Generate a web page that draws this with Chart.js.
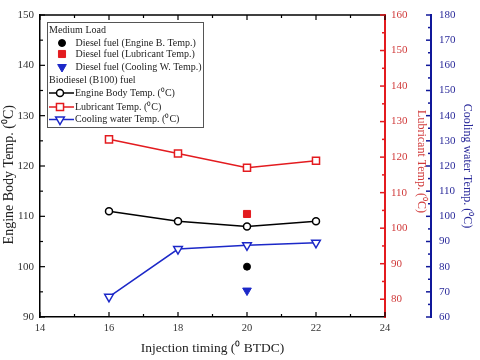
<!DOCTYPE html>
<html>
<head>
<meta charset="utf-8">
<script src="https://cdn.jsdelivr.net/npm/chart.js@4"></script>
<style>
  body { margin: 0; background: #fff; }
  #wrap { width: 480px; height: 360px; }
</style>
</head>
<body>
<div id="wrap"><canvas id="myChart" width="480" height="360"></canvas></div>
<script>
// injection timing (deg BTDC)
const timing = [16, 18, 20, 22];
// biodiesel (B100) fuel
const engineBody = [111, 109, 108, 109];
const lubricant = [125, 121, 117, 119];
const cooling = [68, 87, 88.5, 89.5];
// diesel fuel reference point
const dieselTiming = [20];
const dieselEngine = [100];
const dieselLubricant = [104];
const dieselCooling = [70.5];

const RED = '#e31b1f';
const BLUE = '#1c28c8';
const serif = 'Liberation Serif, Times New Roman, serif';

const pts = (xs, ys) => xs.map((x, i) => ({ x: x, y: ys[i] }));

const ctx = document.getElementById('myChart').getContext('2d');

// inward tick marks like the original plot (major + minor)
const frameTicks = {
    id: 'frameTicks',
    afterDraw(chart) {
        const c = chart.ctx;
        const a = chart.chartArea;
        const s = chart.scales;
        c.save();
        // top border
        c.strokeStyle = '#000';
        c.lineWidth = 1.5;
        c.beginPath();
        c.moveTo(a.left, a.top);
        c.lineTo(a.right, a.top);
        c.stroke();

        c.lineWidth = 1.2;
        // x ticks, bottom and top
        for (let v = 14; v <= 24; v++) {
            const px = s.x.getPixelForValue(v);
            const len = v % 2 === 0 ? 5 : 3;
            c.beginPath();
            c.moveTo(px, a.bottom); c.lineTo(px, a.bottom - len);
            c.moveTo(px, a.top); c.lineTo(px, a.top + len);
            c.stroke();
        }
        // left axis
        for (let v = 90; v <= 150; v += 5) {
            const py = s.y.getPixelForValue(v);
            const len = v % 10 === 0 ? 5 : 3;
            c.beginPath();
            c.moveTo(a.left, py); c.lineTo(a.left + len, py);
            c.stroke();
        }
        // red axis
        c.strokeStyle = RED;
        c.lineWidth = 1.5;
        for (let v = 80; v <= 160; v += 5) {
            const py = s.y1.getPixelForValue(v);
            const len = v % 10 === 0 ? 5 : 3;
            c.beginPath();
            c.moveTo(a.right, py); c.lineTo(a.right - len, py);
            c.stroke();
        }
        // blue axis
        c.strokeStyle = '#10189a';
        const bx = s.y2.left;
        for (let v = 60; v <= 180; v += 5) {
            const py = s.y2.getPixelForValue(v);
            const len = v % 10 === 0 ? 5 : 3;
            c.beginPath();
            c.moveTo(bx, py); c.lineTo(bx - len, py);
            c.stroke();
        }
        c.restore();
    }
};

// boxed legend with two groups
const legendRows = [
    { text: 'Medium Load', y: 30 },
    { text: 'Diesel fuel (Engine B. Temp.)', y: 43, ds: 3 },
    { text: 'Diesel fuel (Lubricant Temp.)', y: 54, ds: 4 },
    { text: 'Diesel fuel (Cooling W. Temp.)', y: 67, ds: 5 },
    { text: 'Biodiesel (B100) fuel', y: 80.5 },
    { text: 'Engine Body Temp. (\u2070C)', y: 93, ds: 0, line: true },
    { text: 'Lubricant Temp. (\u2070C)', y: 107, ds: 1, line: true },
    { text: 'Cooling water Temp. (\u2070C)', y: 119.5, ds: 2, line: true }
];

const boxLegend = {
    id: 'boxLegend',
    afterDraw(chart) {
        const c = chart.ctx;
        c.save();
        c.fillStyle = '#fff';
        c.fillRect(47, 22, 156, 105);
        c.strokeStyle = '#555';
        c.lineWidth = 1;
        c.strokeRect(47.5, 22.5, 156, 105);
        c.font = '10px ' + serif;
        c.textBaseline = 'middle';
        legendRows.forEach(r => {
            if (r.ds === undefined) {
                c.fillStyle = '#222';
                c.fillText(r.text, 49, r.y);
                return;
            }
            const d = chart.data.datasets[r.ds];
            let mx = 62, tx = 75.5;
            if (r.line) {
                c.strokeStyle = d.borderColor;
                c.lineWidth = 1.5;
                c.beginPath();
                c.moveTo(49, r.y); c.lineTo(74, r.y);
                c.stroke();
                mx = 60; tx = 75;
            }
            c.fillStyle = d.pointBackgroundColor;
            c.strokeStyle = d.pointBorderColor;
            c.lineWidth = d.pointBorderWidth;
            Chart.helpers.drawPoint(c, {
                pointStyle: d.pointStyle,
                radius: d.pointRadius,
                rotation: d.pointRotation || 0,
                borderWidth: d.pointBorderWidth
            }, mx, r.y);
            c.fillStyle = '#222';
            c.fillText(r.text, tx, r.y);
        });
        c.restore();
    }
};

const myChart = new Chart(ctx, {
    type: 'line',
    data: {
        datasets: [{
            data: pts(timing, engineBody),
            yAxisID: 'y',
            borderColor: '#000',
            borderWidth: 1.5,
            pointStyle: 'circle',
            pointRadius: 3.5,
            pointBorderWidth: 1.5,
            pointBackgroundColor: '#fff',
            pointBorderColor: '#000'
        }, {
            data: pts(timing, lubricant),
            yAxisID: 'y1',
            borderColor: RED,
            borderWidth: 1.5,
            pointStyle: 'rect',
            pointRadius: 5,
            pointBorderWidth: 1.5,
            pointBackgroundColor: '#fff',
            pointBorderColor: RED
        }, {
            data: pts(timing, cooling),
            yAxisID: 'y2',
            borderColor: BLUE,
            borderWidth: 1.5,
            pointStyle: 'triangle',
            pointRotation: 180,
            pointRadius: 5,
            pointBorderWidth: 1.5,
            pointBackgroundColor: '#fff',
            pointBorderColor: BLUE
        }, {
            data: pts(dieselTiming, dieselEngine),
            yAxisID: 'y',
            showLine: false,
            borderColor: '#000',
            pointStyle: 'circle',
            pointRadius: 3.5,
            pointBorderWidth: 1,
            pointBackgroundColor: '#000',
            pointBorderColor: '#000'
        }, {
            data: pts(dieselTiming, dieselLubricant),
            yAxisID: 'y1',
            showLine: false,
            borderColor: RED,
            pointStyle: 'rect',
            pointRadius: 5,
            pointBorderWidth: 1,
            pointBackgroundColor: RED,
            pointBorderColor: RED
        }, {
            data: pts(dieselTiming, dieselCooling),
            yAxisID: 'y2',
            showLine: false,
            borderColor: BLUE,
            pointStyle: 'triangle',
            pointRotation: 180,
            pointRadius: 5,
            pointBorderWidth: 1,
            pointBackgroundColor: BLUE,
            pointBorderColor: BLUE
        }]
    },
    options: {
        responsive: false,
        animation: false,
        layout: { padding: { top: 15, left: 0, right: 0, bottom: 0 } },
        plugins: {
            legend: { display: false },
            tooltip: { enabled: false }
        },
        scales: {
            x: {
                type: 'linear',
                min: 14, max: 24,
                grid: { display: false, drawTicks: false },
                border: { display: true, color: '#000', width: 1.5 },
                ticks: { stepSize: 2, padding: 5, color: '#333', font: { family: serif, size: 10.5 } },
                title: {
                    display: true,
                    text: 'Injection timing (\u2070 BTDC)',
                    color: '#222',
                    font: { family: serif, size: 13.5 },
                    padding: { top: 0, bottom: 3 }
                },
                afterFit(scale) { scale.height = 43; }
            },
            y: {
                position: 'left',
                min: 90, max: 150,
                grid: { display: false, drawTicks: false },
                border: { display: true, color: '#000', width: 1.5 },
                ticks: { stepSize: 10, padding: 6, color: '#333', font: { family: serif, size: 11 } },
                title: {
                    display: true,
                    text: 'Engine Body Temp. (\u2070C)     ',
                    color: '#222',
                    font: { family: serif, size: 14 },
                    padding: { top: 1, bottom: 0 }
                },
                afterFit(scale) { scale.width = 40; }
            },
            y1: {
                position: 'right',
                min: 75, max: 160,
                grid: { display: false, drawTicks: false },
                border: { display: true, color: RED, width: 2 },
                ticks: { stepSize: 10, padding: 6, color: '#d03a3a', font: { family: serif, size: 11 } },
                afterBuildTicks(scale) {
                    scale.ticks = scale.ticks.filter(t => t.value % 10 === 0);
                },
                title: {
                    display: true,
                    text: 'Lubricant Temp. (\u2070C)   ',
                    color: '#d03a3a',
                    font: { family: serif, size: 12 },
                    padding: { top: 3, bottom: 0 }
                },
                afterFit(scale) { scale.width = 46; }
            },
            y2: {
                position: 'right',
                min: 60, max: 180,
                grid: { display: false, drawTicks: false },
                border: { display: true, color: '#10189a', width: 2 },
                ticks: { stepSize: 10, padding: 8, color: '#2a2a9a', font: { family: serif, size: 11 } },
                title: {
                    display: true,
                    text: 'Cooling water Temp. (\u2070C)',
                    color: '#2a2a9a',
                    font: { family: serif, size: 12 },
                    padding: { top: 6, bottom: 0 }
                },
                afterFit(scale) { scale.width = 49; }
            }
        }
    },
    plugins: [frameTicks, boxLegend]
});
</script>
</body>
</html>
